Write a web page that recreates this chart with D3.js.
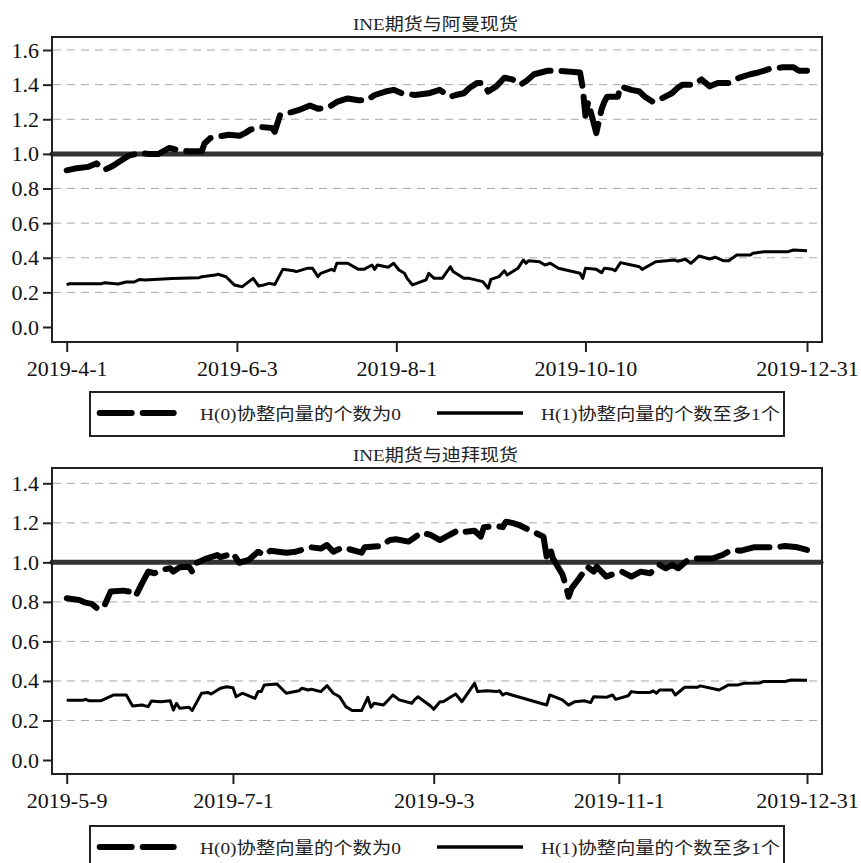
<!DOCTYPE html>
<html><head><meta charset="utf-8">
<script src="https://cdn.jsdelivr.net/npm/d3@7"></script>
<style>body{margin:0;background:#fff} svg{display:block}</style>
</head><body>
<svg id="c" width="861" height="863"></svg>
<script>
// ---------- data ----------
const omanTitle = "INE期货与阿曼现货";
const dubaiTitle = "INE期货与迪拜现货";
const legendLabels = ["H(0)协整向量的个数为0", "H(1)协整向量的个数至多1个"];

const omanYTicks = [0.0, 0.2, 0.4, 0.6, 0.8, 1.0, 1.2, 1.4, 1.6];
const dubaiYTicks = [0.0, 0.2, 0.4, 0.6, 0.8, 1.0, 1.2, 1.4];

const omanXTicks = ["2019-04-01", "2019-06-03", "2019-08-01", "2019-10-10", "2019-12-31"];
const omanXTickLabels = ["2019-4-1", "2019-6-3", "2019-8-1", "2019-10-10", "2019-12-31"];
const dubaiXTicks = ["2019-05-09", "2019-07-01", "2019-09-03", "2019-11-01", "2019-12-31"];
const dubaiXTickLabels = ["2019-5-9", "2019-7-1", "2019-9-3", "2019-11-1", "2019-12-31"];

const omanH0 = [
["2019-04-01",0.905],["2019-04-04",0.915],["2019-04-09",0.925],["2019-04-12",0.945],["2019-04-15",0.907],
["2019-04-18",0.93],["2019-04-21",0.96],["2019-04-24",0.99],["2019-04-28",1.005],["2019-05-01",1.0],
["2019-05-05",1.0],["2019-05-09",1.034],["2019-05-13",1.02],["2019-05-16",1.015],["2019-05-21",1.015],
["2019-05-22",1.06],["2019-05-24",1.09],["2019-05-27",1.10],["2019-05-31",1.11],["2019-06-04",1.105],
["2019-06-06",1.12],["2019-06-08",1.14],["2019-06-12",1.155],["2019-06-16",1.15],["2019-06-17",1.127],
["2019-06-19",1.225],["2019-06-23",1.24],["2019-06-26",1.254],["2019-06-30",1.28],["2019-07-03",1.26],
["2019-07-07",1.27],["2019-07-10",1.30],["2019-07-14",1.32],["2019-07-18",1.31],["2019-07-21",1.31],
["2019-07-24",1.34],["2019-07-28",1.36],["2019-07-31",1.37],["2019-08-03",1.35],["2019-08-08",1.34],
["2019-08-13",1.35],["2019-08-17",1.37],["2019-08-21",1.33],["2019-08-23",1.34],["2019-08-26",1.35],
["2019-08-28",1.38],["2019-08-31",1.41],["2019-09-02",1.41],["2019-09-04",1.36],["2019-09-07",1.39],
["2019-09-10",1.44],["2019-09-13",1.43],["2019-09-16",1.40],["2019-09-18",1.42],["2019-09-21",1.46],
["2019-09-26",1.48],["2019-09-30",1.48],["2019-10-08",1.47],["2019-10-09",1.38],["2019-10-10",1.22],
["2019-10-11",1.30],["2019-10-14",1.12],["2019-10-15",1.19],["2019-10-16",1.26],["2019-10-17",1.30],
["2019-10-18",1.33],["2019-10-21",1.33],["2019-10-22",1.33],["2019-10-23",1.39],["2019-10-27",1.37],
["2019-10-30",1.36],["2019-11-01",1.33],["2019-11-04",1.30],["2019-11-06",1.31],["2019-11-11",1.35],
["2019-11-13",1.38],["2019-11-15",1.40],["2019-11-19",1.40],["2019-11-22",1.43],["2019-11-25",1.39],
["2019-11-28",1.41],["2019-12-02",1.41],["2019-12-06",1.44],["2019-12-10",1.46],["2019-12-13",1.47],
["2019-12-17",1.49],["2019-12-22",1.50],["2019-12-26",1.50],["2019-12-28",1.48],["2019-12-31",1.48]
];

const omanH1 = [
["2019-04-01",0.243],["2019-04-02",0.25],["2019-04-14",0.25],["2019-04-15",0.256],["2019-04-20",0.248],
["2019-04-23",0.26],["2019-04-26",0.26],["2019-04-28",0.275],["2019-04-30",0.272],["2019-05-10",0.28],
["2019-05-20",0.285],["2019-05-21",0.29],["2019-05-26",0.30],["2019-05-27",0.305],["2019-05-30",0.29],
["2019-06-02",0.243],["2019-06-05",0.233],["2019-06-09",0.281],["2019-06-11",0.237],["2019-06-13",0.243],
["2019-06-15",0.252],["2019-06-17",0.245],["2019-06-20",0.333],["2019-06-24",0.325],["2019-06-25",0.32],
["2019-06-29",0.339],["2019-07-01",0.339],["2019-07-03",0.291],["2019-07-04",0.31],["2019-07-08",0.333],
["2019-07-09",0.325],["2019-07-10",0.368],["2019-07-14",0.368],["2019-07-18",0.333],["2019-07-20",0.333],
["2019-07-23",0.358],["2019-07-24",0.333],["2019-07-25",0.358],["2019-07-29",0.345],["2019-07-31",0.368],
["2019-08-02",0.329],["2019-08-04",0.31],["2019-08-05",0.281],["2019-08-07",0.243],["2019-08-12",0.272],
["2019-08-13",0.31],["2019-08-15",0.281],["2019-08-18",0.281],["2019-08-21",0.348],["2019-08-22",0.32],
["2019-08-26",0.281],["2019-08-28",0.281],["2019-09-02",0.262],["2019-09-04",0.224],["2019-09-05",0.275],
["2019-09-08",0.291],["2019-09-10",0.325],["2019-09-11",0.30],["2019-09-15",0.339],["2019-09-17",0.387],
["2019-09-18",0.368],["2019-09-19",0.383],["2019-09-23",0.377],["2019-09-25",0.358],["2019-09-27",0.368],
["2019-09-30",0.339],["2019-10-08",0.31],["2019-10-09",0.281],["2019-10-10",0.339],["2019-10-14",0.333],
["2019-10-16",0.314],["2019-10-17",0.339],["2019-10-20",0.333],["2019-10-21",0.325],["2019-10-23",0.372],
["2019-10-27",0.358],["2019-10-30",0.348],["2019-10-31",0.333],["2019-11-05",0.377],["2019-11-09",0.383],
["2019-11-12",0.387],["2019-11-13",0.38],["2019-11-16",0.391],["2019-11-18",0.368],["2019-11-21",0.41],
["2019-11-25",0.393],["2019-11-27",0.403],["2019-11-30",0.383],["2019-12-02",0.383],["2019-12-05",0.416],
["2019-12-10",0.416],["2019-12-11",0.426],["2019-12-15",0.435],["2019-12-24",0.435],["2019-12-26",0.445],
["2019-12-31",0.44]
];

const dubaiH0 = [
["2019-05-09",0.818],["2019-05-13",0.81],["2019-05-15",0.796],["2019-05-17",0.79],["2019-05-19",0.763],
["2019-05-21",0.78],["2019-05-23",0.852],["2019-05-27",0.857],["2019-05-29",0.852],["2019-05-31",0.83],
["2019-06-02",0.894],["2019-06-04",0.953],["2019-06-06",0.945],["2019-06-08",0.962],["2019-06-11",0.97],
["2019-06-12",0.953],["2019-06-14",0.975],["2019-06-17",0.978],["2019-06-18",0.953],["2019-06-19",0.995],
["2019-06-22",1.016],["2019-06-26",1.037],["2019-06-27",1.026],["2019-07-01",1.046],["2019-07-03",0.998],
["2019-07-06",1.012],["2019-07-09",1.054],["2019-07-11",1.037],["2019-07-13",1.059],["2019-07-18",1.049],
["2019-07-21",1.054],["2019-07-23",1.063],["2019-07-26",1.076],["2019-07-29",1.07],["2019-07-31",1.088],
["2019-08-02",1.054],["2019-08-05",1.076],["2019-08-11",1.049],["2019-08-12",1.076],["2019-08-17",1.083],
["2019-08-20",1.113],["2019-08-22",1.117],["2019-08-26",1.105],["2019-08-28",1.127],["2019-08-30",1.15],
["2019-09-02",1.139],["2019-09-05",1.113],["2019-09-07",1.13],["2019-09-11",1.164],["2019-09-13",1.155],
["2019-09-16",1.16],["2019-09-18",1.13],["2019-09-19",1.178],["2019-09-23",1.184],["2019-09-25",1.178],
["2019-09-26",1.206],["2019-09-28",1.2],["2019-09-30",1.19],["2019-10-08",1.13],["2019-10-09",1.03],
["2019-10-10",1.08],["2019-10-11",1.02],["2019-10-14",0.94],["2019-10-15",0.89],["2019-10-16",0.826],
["2019-10-17",0.87],["2019-10-19",0.911],["2019-10-22",0.978],["2019-10-24",0.953],["2019-10-25",0.978],
["2019-10-28",0.928],["2019-10-31",0.945],["2019-11-02",0.953],["2019-11-05",0.928],["2019-11-08",0.953],
["2019-11-11",0.945],["2019-11-14",0.987],["2019-11-16",0.97],["2019-11-18",0.987],["2019-11-20",0.97],
["2019-11-23",1.012],["2019-11-26",1.02],["2019-12-01",1.02],["2019-12-04",1.037],["2019-12-07",1.063],
["2019-12-10",1.059],["2019-12-14",1.076],["2019-12-17",1.076],["2019-12-21",1.076],["2019-12-24",1.083],
["2019-12-28",1.076],["2019-12-31",1.063]
];

const dubaiH1 = [
["2019-05-09",0.302],["2019-05-14",0.302],["2019-05-15",0.307],["2019-05-16",0.30],["2019-05-20",0.30],
["2019-05-24",0.329],["2019-05-28",0.329],["2019-05-30",0.273],["2019-06-02",0.278],["2019-06-04",0.27],
["2019-06-05",0.299],["2019-06-08",0.295],["2019-06-11",0.30],["2019-06-12",0.253],["2019-06-13",0.287],
["2019-06-14",0.262],["2019-06-17",0.267],["2019-06-18",0.25],["2019-06-21",0.338],["2019-06-23",0.342],
["2019-06-24",0.334],["2019-06-27",0.363],["2019-06-29",0.371],["2019-07-01",0.366],["2019-07-02",0.32],
["2019-07-04",0.338],["2019-07-08",0.312],["2019-07-09",0.346],["2019-07-10",0.346],["2019-07-11",0.38],
["2019-07-15",0.385],["2019-07-18",0.338],["2019-07-22",0.35],["2019-07-23",0.363],["2019-07-25",0.354],
["2019-07-26",0.358],["2019-07-29",0.346],["2019-07-31",0.376],["2019-08-02",0.338],["2019-08-04",0.32],
["2019-08-06",0.27],["2019-08-08",0.25],["2019-08-11",0.25],["2019-08-13",0.317],["2019-08-14",0.267],
["2019-08-15",0.287],["2019-08-18",0.278],["2019-08-21",0.329],["2019-08-23",0.304],["2019-08-27",0.287],
["2019-08-28",0.307],["2019-08-29",0.32],["2019-09-02",0.273],["2019-09-03",0.257],["2019-09-05",0.295],
["2019-09-06",0.295],["2019-09-10",0.334],["2019-09-12",0.295],["2019-09-16",0.388],["2019-09-17",0.346],
["2019-09-20",0.35],["2019-09-23",0.346],["2019-09-24",0.35],["2019-09-25",0.329],["2019-09-26",0.338],
["2019-10-09",0.278],["2019-10-10",0.329],["2019-10-14",0.304],["2019-10-16",0.278],["2019-10-18",0.295],
["2019-10-21",0.30],["2019-10-23",0.29],["2019-10-24",0.32],["2019-10-28",0.317],["2019-10-30",0.329],
["2019-10-31",0.307],["2019-11-04",0.325],["2019-11-05",0.346],["2019-11-07",0.342],["2019-11-11",0.342],
["2019-11-12",0.35],["2019-11-13",0.338],["2019-11-14",0.354],["2019-11-18",0.354],["2019-11-19",0.329],
["2019-11-22",0.368],["2019-11-26",0.368],["2019-11-27",0.375],["2019-12-03",0.354],["2019-12-06",0.38],
["2019-12-09",0.38],["2019-12-11",0.388],["2019-12-16",0.39],["2019-12-17",0.397],["2019-12-24",0.397],
["2019-12-26",0.405],["2019-12-31",0.403]
];

// ---------- drawing ----------
const svg = d3.select("#c");
const parse = d3.timeParse("%Y-%m-%d");
const FONT = '"Liberation Serif","Times New Roman","Noto Sans CJK SC",serif';

function drawPanel(p) {
  const g = svg.append("g");
  const x = d3.scaleTime().domain([parse(p.start), parse(p.end)]).range([66.7, 807]);
  const y = d3.scaleLinear().domain([0, p.yMax]).range([p.zeroY, p.maxY]);

  // title
  g.append("text").attr("x", 435.5).attr("y", p.titleY).attr("text-anchor", "middle")
    .attr("font-family", FONT).attr("font-size", 17).attr("fill", "#222")
    .attr("textLength", 165).attr("lengthAdjust", "spacingAndGlyphs").text(p.title);

  // grid lines
  g.append("g").selectAll("line").data(p.yTicks.filter(v => v > 0 && Math.abs(v - 1) > 1e-9)).join("line")
    .attr("x1", 53).attr("x2", 821).attr("y1", d => y(d)).attr("y2", d => y(d))
    .attr("stroke", "#a8a8a8").attr("stroke-width", 1).attr("stroke-dasharray", "8,6");

  // reference line at 1.0
  g.append("line").attr("x1", 52).attr("x2", 821).attr("y1", y(1)).attr("y2", y(1))
    .attr("stroke", "#333").attr("stroke-width", 5).attr("stroke-linecap", "round");

  // frame
  g.append("rect").attr("x", 52).attr("y", p.top).attr("width", 770).attr("height", p.bottom - p.top)
    .attr("fill", "none").attr("stroke", "#222").attr("stroke-width", 2);

  // y axis
  g.append("g").attr("transform", "translate(52,0)")
    .call(d3.axisLeft(y).tickValues(p.yTicks).tickSize(9).tickPadding(4).tickFormat(d3.format(".1f")))
    .call(a => {
      a.select(".domain").remove();
      a.selectAll("line").attr("stroke", "#222").attr("stroke-width", 2);
      a.selectAll("text").attr("font-family", FONT).attr("font-size", 22).attr("fill", "#111");
    });

  // x axis
  g.append("g").attr("transform", `translate(0,${p.bottom})`)
    .call(d3.axisBottom(x).tickValues(p.xTicks.map(parse)).tickSize(10).tickPadding(8)
      .tickFormat((d, i) => p.xTickLabels[i]))
    .call(a => {
      a.select(".domain").remove();
      a.selectAll("line").attr("stroke", "#222").attr("stroke-width", 2);
      a.selectAll("text").attr("font-family", FONT).attr("font-size", 22).attr("fill", "#111");
    });

  const line = d3.line().x(d => x(parse(d[0]))).y(d => y(d[1]));

  g.append("path").datum(p.h1).attr("d", line).attr("fill", "none")
    .attr("stroke", "#000").attr("stroke-width", 3).attr("stroke-linejoin", "round");
  g.append("path").datum(p.h0).attr("d", line).attr("fill", "none")
    .attr("stroke", "#000").attr("stroke-width", 6).attr("stroke-linejoin", "round")
    .attr("stroke-linecap", "round").attr("stroke-dasharray", "32,11");

  // legend
  const lg = svg.append("g");
  const cy = p.legTop + 22;
  lg.append("rect").attr("x", 90).attr("y", p.legTop).attr("width", 694).attr("height", 44)
    .attr("fill", "none").attr("stroke", "#222").attr("stroke-width", 2);
  lg.append("line").attr("x1", 99.7).attr("x2", 173.7).attr("y1", cy - 1).attr("y2", cy - 1)
    .attr("stroke", "#000").attr("stroke-width", 6).attr("stroke-linecap", "round").attr("stroke-dasharray", "32,11");
  lg.append("text").attr("x", 200).attr("y", cy + 6).attr("font-family", FONT).attr("font-size", 17)
    .attr("fill", "#222").attr("textLength", 201).attr("lengthAdjust", "spacingAndGlyphs").text(legendLabels[0]);
  lg.append("line").attr("x1", 437).attr("x2", 523).attr("y1", cy - 1).attr("y2", cy - 1)
    .attr("stroke", "#000").attr("stroke-width", 3.5);
  lg.append("text").attr("x", 541).attr("y", cy + 6).attr("font-family", FONT).attr("font-size", 17)
    .attr("fill", "#222").attr("textLength", 239).attr("lengthAdjust", "spacingAndGlyphs").text(legendLabels[1]);
}

drawPanel({
  title: omanTitle, titleY: 30, top: 37, bottom: 342,
  start: "2019-04-01", end: "2019-12-31",
  yMax: 1.6, zeroY: 327, maxY: 50, yTicks: omanYTicks,
  xTicks: omanXTicks, xTickLabels: omanXTickLabels,
  h0: omanH0, h1: omanH1, legTop: 392
});
drawPanel({
  title: dubaiTitle, titleY: 461, top: 468, bottom: 774,
  start: "2019-05-09", end: "2019-12-31",
  yMax: 1.4, zeroY: 760, maxY: 483.3, yTicks: dubaiYTicks,
  xTicks: dubaiXTicks, xTickLabels: dubaiXTickLabels,
  h0: dubaiH0, h1: dubaiH1, legTop: 826
});
</script>
</body></html>
